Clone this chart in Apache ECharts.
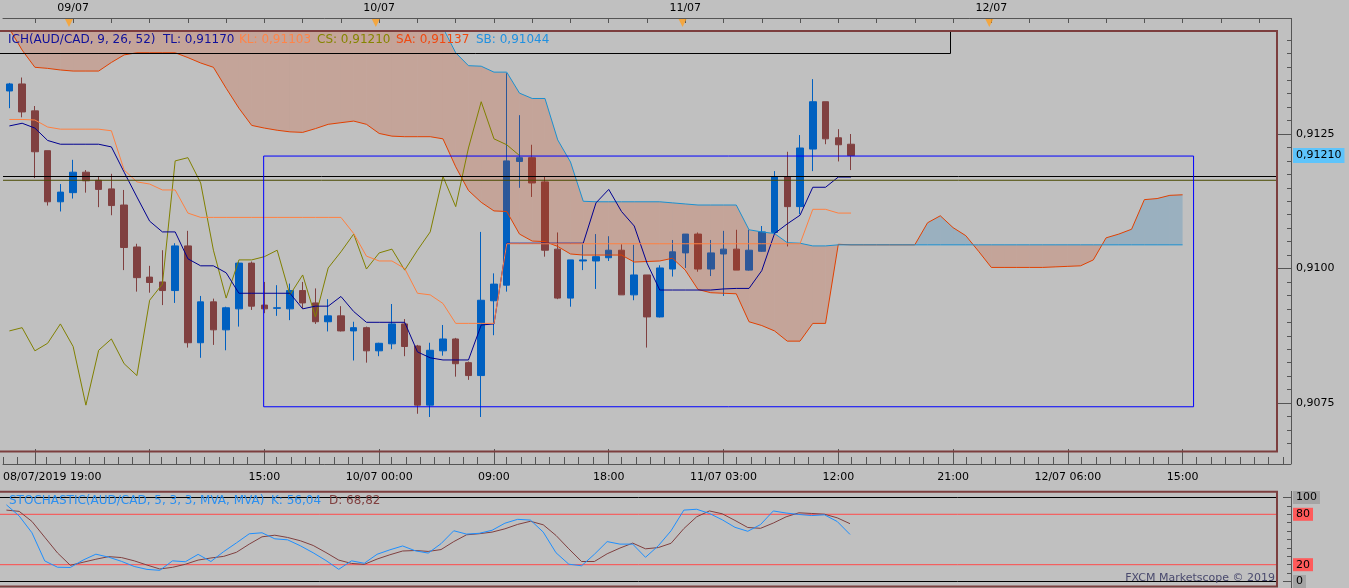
<!DOCTYPE html>
<html><head><meta charset="utf-8">
<script src="https://cdn.jsdelivr.net/npm/echarts@6/dist/echarts.min.js"></script>
<style>html,body{margin:0;padding:0;background:#c0c0c0;}#c{width:1349px;height:588px;}</style>
</head><body><div id="c"></div>
<script>
// ---------- categories (hourly, 08/07/2019 19:00 onward) ----------
const categories = [];
(function(){const s=Date.UTC(2019,6,8,19);const p=n=>String(n).padStart(2,'0');
for(let i=0;i<101;i++){const d=new Date(s+i*3600000);categories.push(p(d.getUTCDate())+'/'+p(d.getUTCMonth()+1)+' '+p(d.getUTCHours())+':00');}})();

// ---------- candles ----------
const openP=[0.91330,0.91343,0.91293,0.91219,0.91124,0.91141,0.91179,0.91164,0.91148,0.91118,
0.91040,0.90984,0.90975,0.90959,0.91042,0.90862,0.90938,0.90886,0.90925,0.91010,
0.90932,0.90926,0.90925,0.90959,0.90936,0.90901,0.90912,0.90884,0.90890,0.90847,
0.90860,0.90897,0.90856,0.90746,0.90847,0.90869,0.90825,0.90801,0.90940,0.90969,
0.91199,0.91206,0.91161,0.91036,0.90945,0.91014,0.91014,0.91020,0.91034,0.90951,
0.90988,0.90910,0.90999,0.91029,0.91064,0.90999,0.91027,0.91036,0.90997,0.91032,
0.91067,0.91171,0.91115,0.91222,0.91310,0.91243,0.91231];
const closeP=[0.91343,0.91291,0.91217,0.91124,0.91142,0.91179,0.91163,0.91147,0.91117,0.91039,
0.90983,0.90974,0.90959,0.91042,0.90862,0.90938,0.90886,0.90927,0.91010,0.90930,
0.90925,0.90927,0.90959,0.90936,0.90901,0.90912,0.90884,0.90890,0.90847,0.90861,
0.90897,0.90855,0.90746,0.90848,0.90869,0.90823,0.90801,0.90941,0.90971,0.91200,
0.91206,0.91159,0.91034,0.90945,0.91016,0.91016,0.91022,0.91034,0.90951,0.90988,
0.90910,0.91001,0.91031,0.91064,0.90999,0.91029,0.91036,0.90997,0.91034,0.91068,
0.91171,0.91115,0.91224,0.91310,0.91241,0.91230,0.91210];
const highP=[0.91345,0.91355,0.91302,0.91219,0.91157,0.91202,0.91183,0.91172,0.91176,0.91146,
0.91046,0.91005,0.91034,0.91047,0.91070,0.90949,0.90944,0.90929,0.91012,0.91013,
0.90975,0.90969,0.90972,0.90975,0.90963,0.90943,0.90930,0.90901,0.90892,0.90862,
0.90934,0.90906,0.90858,0.90862,0.90895,0.90871,0.90827,0.91068,0.90991,0.91363,
0.91285,0.91230,0.91171,0.91067,0.91016,0.91045,0.91064,0.91060,0.91045,0.91044,
0.90988,0.91006,0.91053,0.91064,0.91067,0.91053,0.91070,0.91072,0.91072,0.91079,
0.91181,0.91217,0.91248,0.91352,0.91310,0.91259,0.91250];
const lowP=[0.91298,0.91281,0.91168,0.91117,0.91106,0.91130,0.91141,0.91114,0.91099,0.90997,
0.90957,0.90955,0.90932,0.90936,0.90853,0.90834,0.90858,0.90848,0.90892,0.90923,
0.90917,0.90912,0.90904,0.90926,0.90897,0.90883,0.90883,0.90829,0.90825,0.90837,
0.90850,0.90837,0.90730,0.90724,0.90838,0.90799,0.90793,0.90724,0.90876,0.90957,
0.91150,0.91133,0.91022,0.90943,0.90929,0.90997,0.90962,0.91014,0.90951,0.90941,
0.90853,0.90909,0.90985,0.91001,0.90994,0.90986,0.90949,0.90997,0.90996,0.91031,
0.91065,0.91041,0.91101,0.91181,0.91231,0.91199,0.91183];

// ---------- Ichimoku ----------
const tenkan=[0.91265,0.91270,0.91261,0.91238,0.91231,0.91231,0.91231,0.91231,0.91226,0.91179,
0.91133,0.91088,0.91068,0.91068,0.91018,0.91005,0.91005,0.90992,0.90954,0.90954,
0.90954,0.90954,0.90954,0.90925,0.90930,0.90930,0.90948,0.90920,0.90900,0.90900,
0.90900,0.90900,0.90845,0.90834,0.90830,0.90830,0.90830,0.90895,0.90897,0.91047,
0.91047,0.91047,0.91047,0.91047,0.91047,0.91047,0.91122,0.91147,0.91106,0.91079,
0.91010,0.90960,0.90960,0.90960,0.90960,0.90960,0.90962,0.90963,0.90963,0.90996,
0.91065,0.91083,0.91099,0.91151,0.91151,0.91170,0.91170];
const kijun=[0.91277,0.91277,0.91276,0.91263,0.91259,0.91259,0.91259,0.91259,0.91256,0.91183,
0.91161,0.91157,0.91146,0.91146,0.91103,0.91095,0.91095,0.91095,0.91095,0.91095,
0.91095,0.91095,0.91095,0.91095,0.91095,0.91095,0.91095,0.91065,0.91023,0.91014,
0.91014,0.91000,0.90954,0.90951,0.90935,0.90898,0.90898,0.90898,0.90898,0.91046,
0.91046,0.91046,0.91046,0.91046,0.91046,0.91046,0.91046,0.91046,0.91046,0.91046,
0.91046,0.91046,0.91046,0.91046,0.91046,0.91046,0.91046,0.91046,0.91046,0.91046,
0.91046,0.91046,0.91046,0.91110,0.91110,0.91103,0.91103];
const chikou=[0.90884,0.90890,0.90847,0.90861,0.90897,0.90855,0.90746,0.90848,0.90869,0.90823,
0.90801,0.90941,0.90971,0.91200,0.91206,0.91159,0.91034,0.90945,0.91016,0.91016,
0.91022,0.91034,0.90951,0.90988,0.90910,0.91001,0.91031,0.91064,0.90999,0.91029,
0.91036,0.90997,0.91034,0.91068,0.91171,0.91115,0.91224,0.91310,0.91241,0.91230,0.91210];
const spanA=[0.91446,0.91406,0.91374,0.91372,0.91369,0.91367,0.91367,0.91367,0.91383,0.91397,
0.91401,0.91401,0.91401,0.91401,0.91392,0.91382,0.91374,0.91335,0.91298,0.91266,
0.91261,0.91257,0.91254,0.91253,0.91260,0.91268,0.91271,0.91274,0.91268,0.91251,
0.91246,0.91245,0.91245,0.91245,0.91241,0.91189,0.91145,0.91123,0.91107,0.91106,
0.91064,0.91051,0.91050,0.91041,0.91027,0.91025,0.91025,0.91025,0.91025,0.91012,
0.91013,0.91014,0.91019,0.90997,0.90961,0.90955,0.90954,0.90953,0.90901,0.90894,
0.90884,0.90865,0.90865,0.90898,0.90898,0.91045,0.91044,0.91044,0.91044,0.91044,
0.91044,0.91044,0.91085,0.91098,0.91076,0.91061,0.91032,0.91002,0.91002,0.91002,
0.91002,0.91002,0.91003,0.91004,0.91005,0.91016,0.91057,0.91064,0.91073,0.91128,
0.91130,0.91136,0.91137];
const spanB=[0.91470,0.91470,0.91470,0.91470,0.91470,0.91470,0.91470,0.91470,0.91470,0.91470,
0.91470,0.91470,0.91470,0.91470,0.91470,0.91470,0.91470,0.91470,0.91470,0.91470,
0.91470,0.91470,0.91470,0.91470,0.91470,0.91470,0.91470,0.91470,0.91470,0.91470,
0.91458,0.91458,0.91458,0.91458,0.91447,0.91401,0.91377,0.91376,0.91365,0.91365,
0.91326,0.91316,0.91316,0.91239,0.91198,0.91125,0.91124,0.91124,0.91124,0.91124,
0.91124,0.91124,0.91122,0.91120,0.91118,0.91118,0.91118,0.91118,0.91072,0.91068,
0.91065,0.91048,0.91047,0.91042,0.91042,0.91044,0.91044,0.91044,0.91044,0.91044,
0.91044,0.91044,0.91044,0.91044,0.91044,0.91044,0.91044,0.91044,0.91044,0.91044,
0.91044,0.91044,0.91044,0.91044,0.91044,0.91044,0.91044,0.91044,0.91044,0.91044,
0.91044,0.91044,0.91044];

// ---------- drawn objects ----------
const hLineBlack=0.91171, hLineOlive=0.91164;
const rectX=[19.94,92.86], rectY=[0.91209,0.90743];

// ---------- stochastic ----------
const stochK=[91.3,78,58,24.5,17,16.7,25.5,32.5,29,24,17.9,14.4,13.3,24.6,23.5,32.3,23.8,35.6,46,56.8,
58,50.8,49.6,42.5,34.2,25,14.5,24.6,21.7,32.4,37.7,42.3,36.5,33.8,45,60.4,56.4,57.4,61,69.4,
74,73.1,58.8,34.2,20.6,18.7,32.4,47.5,44.5,44.5,28.8,42.5,60.4,85,86,81,73.5,64.5,59.8,67.8,
84,81.5,79.8,78.5,79.4,71.4,56.04];
const stochD=[85,83.5,71.5,52.7,34,19.3,22.9,26.5,29.6,28.5,24.6,19.6,14.9,16.9,20.5,25.5,28,29.9,34.8,44.5,
53.2,55.1,52.4,48.5,42.9,34.5,25.5,21.5,20.4,26.7,31.8,36.3,36.9,35.8,38,47.5,55.6,56.9,58.8,62.7,
68,71.7,67.5,54.8,38.9,23.8,23.8,33,39.8,45.7,38.9,40.4,45.5,63,77,84,80.6,72.7,64.3,63.3,
69.6,77,81.8,81,80.1,75.8,68.82];

// ---------- tick labels ----------
const yLabelVals=[0.9075,0.9100,0.9125,0.9121];
const yLabelText=['0,9075','0,9100','0,9125','0,91210'];
const yMajorTicks=[0.9075,0.9100,0.9125];
const xLabelPos=[-0.5,20,29,38,47,56,65,74,83,92];
const xLabelText=['08/07/2019 19:00','15:00','10/07 00:00','09:00','18:00','11/07 03:00','12:00','21:00','12/07 06:00','15:00'];
const xMajorTicks=[2,11,20,29,38,47,56,65,74,83,92];
const topLabelPos=[5,29,53,77];
const topLabelText=['09/07','10/07','11/07','12/07'];
const stochLabelVals=[0,20,80,100];
const stochLabelText=['0','20','80','100'];
const legendItems=[['ICH(AUD/CAD, 9, 26, 52)',8,'#10109a'],['TL: 0,91170',163,'#10109a'],['KL: 0,91103',239,'#ff8448'],
  ['CS: 0,91210',317,'#858500'],['SA: 0,91137',396,'#f04810'],['SB: 0,91044',476,'#2090e0']];
const stochLegend=[['STOCHASTIC(AUD/CAD, 5, 3, 3, MVA, MVA)',9,'#2b8ff0'],['K: 56,04',271,'#2b8ff0'],['D: 68,82',329,'#804040']];

const yMin=0.9065986, yMax=0.9144145;
const FONT='DejaVu Sans';
const xMinorTicks=[];for(let k=-2;k<=88;k++){if(k%8===0)continue;const v=2+k*1.125;if(v>=-0.5&&v<=100.5)xMinorTicks.push(v);}
const topTicks=[];for(let v=2;v<=100;v+=3)topTicks.push(v);
const yMinorTicks=[];for(let k=0;k<=40;k++){const v=+(0.9065+k*0.00025).toFixed(5);if(v>yMin&&v<yMax&&yMajorTicks.indexOf(v)<0)yMinorTicks.push(v);}

const candleData=openP.map((o,i)=>[o,closeP[i],lowP[i],highP[i]]);
const cloudData=[];for(let j=0;j<spanA.length-1;j++)cloudData.push([j,spanA[j],spanB[j],spanA[j+1],spanB[j+1]]);

function pick(vals,texts,v){let b=0,bd=1e9;vals.forEach((x,i)=>{const d=Math.abs(x-v);if(d<bd){bd=d;b=i;}});return texts[b];}

const PINK='rgba(211,63,11,0.21)', BLUE='rgba(16,120,187,0.21)';
function renderCloud(params,api){
  const j=api.value(0),a0v=api.value(1),b0v=api.value(2),a1v=api.value(3),b1v=api.value(4);
  const a0=api.coord([j,a0v]),b0=api.coord([j,b0v]),a1=api.coord([j+1,a1v]),b1=api.coord([j+1,b1v]);
  const d0=a0v-b0v,d1=a1v-b1v;
  const cs=params.coordSys;const rect={x:cs.x,y:cs.y,width:cs.width,height:cs.height};
  const polys=[];
  if((d0>=0&&d1>=0)||(d0<=0&&d1<=0)){polys.push({p:[a0,a1,b1,b0],up:(d0+d1)>0});}
  else{const t=d0/(d0-d1);const px=[a0[0]+t*(a1[0]-a0[0]),a0[1]+t*(a1[1]-a0[1])];
    polys.push({p:[a0,px,b0],up:d0>0});polys.push({p:[px,a1,b1],up:d1>0});}
  return {type:'group',children:polys.map(q=>({type:'polygon',shape:{points:echarts.graphic.clipPointsByRect(q.p,rect)},style:{fill:q.up?BLUE:PINK}}))};
}

function lineS(data,color,xi,yi,z,extra){return Object.assign({type:'line',data:data,xAxisIndex:xi,yAxisIndex:yi,symbol:'none',showSymbol:false,silent:true,z:z,lineStyle:{color:color,width:1},emphasis:{disabled:true},animation:false},extra||{});}

const hidden={show:false};
const noLine={show:false,onZero:false};
const axisCol='#555';
const MAIN={left:0,top:31,width:1291,height:420.5};
const STO={left:0,top:497.5,width:1291,height:84};
const txt=(t,x,y,c,size,align)=>({type:'text',z:30,silent:true,style:{text:t,x:x,y:y,fill:c,font:size+'px "'+FONT+'"',align:align||'left',verticalAlign:'middle'}});

const option={
  backgroundColor:'#c0c0c0',
  animation:false,
  grid:[MAIN,STO,{left:0,top:18,width:1291,height:13},Object.assign({},MAIN),Object.assign({},STO)],
  xAxis:[
    {type:'category',gridIndex:0,data:categories,boundaryGap:true,show:false,axisLine:noLine},
    {type:'value',gridIndex:0,min:-0.5,max:100.5,position:'bottom',offset:12.5,
      axisLine:{show:true,onZero:false,lineStyle:{color:axisCol,width:1}},
      axisTick:{show:true,inside:true,length:15,customValues:xMajorTicks,lineStyle:{color:axisCol}},
      axisLabel:{show:true,customValues:xLabelPos,formatter:v=>pick(xLabelPos,xLabelText,v),alignMinLabel:'left',margin:8,color:'#000',fontSize:11,fontFamily:FONT},
      splitLine:hidden},
    {type:'value',gridIndex:3,min:-0.5,max:100.5,position:'bottom',offset:12.5,
      axisLine:noLine,axisTick:{show:true,inside:true,length:7,customValues:xMinorTicks,lineStyle:{color:axisCol}},
      axisLabel:hidden,splitLine:hidden},
    {type:'value',gridIndex:0,min:-0.5,max:100.5,position:'top',offset:13,
      axisLine:{show:true,onZero:false,lineStyle:{color:axisCol}},
      axisTick:{show:true,inside:true,length:5,customValues:topTicks,lineStyle:{color:axisCol}},
      axisLabel:{show:true,customValues:topLabelPos,formatter:v=>pick(topLabelPos,topLabelText,v),margin:4,color:'#000',fontSize:11,fontFamily:FONT},
      splitLine:hidden},
    {type:'category',gridIndex:1,data:categories,boundaryGap:true,show:false,axisLine:noLine},
    {type:'value',gridIndex:1,min:-0.5,max:100.5,show:false,axisLine:noLine},
    {type:'value',gridIndex:2,min:-0.5,max:100.5,show:false,axisLine:noLine},
    {type:'value',gridIndex:4,min:-0.5,max:100.5,show:false,axisLine:noLine}
  ],
  yAxis:[
    {type:'value',gridIndex:0,min:yMin,max:yMax,position:'right',
      axisLine:noLine,
      axisTick:{show:true,inside:true,length:14,customValues:yMajorTicks,lineStyle:{color:axisCol}},
      axisLabel:{show:true,customValues:yLabelVals,margin:2,
        formatter:v=>{const t=pick(yLabelVals,yLabelText,v);return t==='0,91210'?'{hl|'+t+'}':'{n|'+t+'}';},
        rich:{n:{padding:[1,3],color:'#000',fontSize:11,fontFamily:FONT},hl:{padding:[2,3],backgroundColor:'#5ec4fb',color:'#000',fontSize:11,fontFamily:FONT}}},
      splitLine:hidden},
    {type:'value',gridIndex:3,min:yMin,max:yMax,position:'right',
      axisLine:noLine,axisTick:{show:true,inside:true,length:4,customValues:yMinorTicks,lineStyle:{color:axisCol}},
      axisLabel:hidden,splitLine:hidden},
    {type:'value',gridIndex:1,min:0,max:100,position:'right',
      axisLine:noLine,
      axisTick:{show:true,inside:true,length:4,customValues:[10,20,30,40,50,60,70,80,90],lineStyle:{color:axisCol}},
      axisLabel:{show:true,customValues:stochLabelVals,margin:2,
        formatter:v=>{const t=pick(stochLabelVals,stochLabelText,v);return (t==='80'||t==='20')?'{r|'+t+'}':'{g|'+t+'}';},
        rich:{g:{padding:[1,3],backgroundColor:'#a4a4a4',color:'#000',fontSize:11,fontFamily:FONT},r:{padding:[1,3],backgroundColor:'#ff5a5a',color:'#000',fontSize:11,fontFamily:FONT}}},
      splitLine:hidden},
    {type:'value',gridIndex:4,min:0,max:100,position:'right',
      axisLine:noLine,axisTick:{show:true,inside:true,length:8,customValues:[0,100],lineStyle:{color:axisCol}},
      axisLabel:hidden,splitLine:hidden},
    {type:'value',gridIndex:2,min:0,max:1,show:false,axisLine:noLine}
  ],
  series:[
    {type:'candlestick',xAxisIndex:0,yAxisIndex:0,data:candleData,barWidth:7,z:2,silent:true,animation:false,
      itemStyle:{color:'#0060c0',color0:'#804040',borderColor:'#0060c0',borderColor0:'#804040',borderWidth:1}},
    {type:'custom',xAxisIndex:1,yAxisIndex:0,data:cloudData,renderItem:renderCloud,z:3,silent:true,animation:false,encode:{x:0,y:1}},
    lineS(spanA,'#e04000',0,0,4),
    lineS(spanB,'#1a90d0',0,0,5),
    lineS(chikou,'#808000',0,0,6),
    lineS(tenkan,'#000090',0,0,7),
    lineS(kijun,'#ff8040',0,0,8),
    lineS([[-0.5,hLineBlack],[99.4,hLineBlack]],'#000000',1,0,9),
    lineS([[-0.5,hLineOlive],[99.4,hLineOlive]],'#4a4a00',1,0,9),
    lineS([[rectX[0],rectY[0]],[rectX[1],rectY[0]],[rectX[1],rectY[1]],[rectX[0],rectY[1]],[rectX[0],rectY[0]]],'#0000ff',1,0,9),
    lineS([[-0.5,100],[99.4,100]],'#000000',5,2,3),
    lineS([[-0.5,0],[99.4,0]],'#000000',5,2,3),
    lineS([[-0.5,80],[99.4,80]],'#ff4a4a',5,2,3),
    lineS([[-0.5,20],[99.4,20]],'#ff4a4a',5,2,3),
    lineS(stochD,'#804040',4,2,4),
    lineS(stochK,'#1e8fff',4,2,5),
    {type:'scatter',xAxisIndex:6,yAxisIndex:4,data:topLabelPos.map(p=>[p-0.1,0.62]),symbol:'path://M0,0L10,0L5,9Z',symbolSize:[8,8],
      itemStyle:{color:'#ffa020'},silent:true,z:10,animation:false}
  ],
  graphic:[
    {type:'rect',z:20,silent:true,shape:{x:-2,y:31,width:1279,height:420.5},style:{fill:'none',stroke:'#7c3e3e',lineWidth:2}},
    {type:'rect',z:20,silent:true,shape:{x:-2,y:491.8,width:1279,height:94.6},style:{fill:'none',stroke:'#7c3e3e',lineWidth:2}},
    {type:'line',z:20,silent:true,shape:{x1:0,y1:53.5,x2:950.5,y2:53.5},style:{stroke:'#000',lineWidth:1}},
    {type:'line',z:20,silent:true,shape:{x1:950.5,y1:32,x2:950.5,y2:53.5},style:{stroke:'#000',lineWidth:1}},
    {type:'line',z:20,silent:true,shape:{x1:1291.5,y1:18,x2:1291.5,y2:464},style:{stroke:axisCol,lineWidth:1}},
    {type:'line',z:20,silent:true,shape:{x1:1291.5,y1:491,x2:1291.5,y2:588},style:{stroke:axisCol,lineWidth:1}}
  ].concat(legendItems.map(l=>txt(l[0],l[1],40,l[2],12)))
   .concat(stochLegend.map(l=>txt(l[0],l[1],500.5,l[2],12)))
   .concat([txt('FXCM Marketscope \u00a9 2019',1275,578,'#4a4a6e',11,'right')])
};
const chart=echarts.init(document.getElementById('c'),null,{renderer:'canvas'});
chart.setOption(option);
</script></body></html>
